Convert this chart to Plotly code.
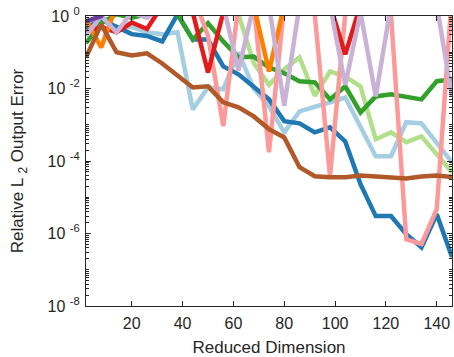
import numpy as np
import plotly.graph_objects as go

# Reduced dimensions (x values)
dims = [2, 8, 14, 20, 26, 32, 38, 44, 50, 56, 62, 68, 74, 80, 86, 92, 98, 104, 110, 116, 122, 128, 134, 140, 146]

# log10 of relative L2 output error, per series (values > 0 run off the top of the axes)
log_err_light_blue = [-0.3, 0.0, -0.35, -0.3, -0.45, -0.5, -0.45, -2.58, -1.97, -2.02, -1.0, -2.0, -2.49,
                      -3.21, -2.63, -2.52, -2.38, -2.25, -3.05, -3.87, -3.87, -2.93, -2.96, -3.49, -4.04]
log_err_blue = [-0.35, -0.1, -0.3, -0.5, -0.55, -0.7, 0.05, -0.65, -0.65, -1.39, -1.61, -1.97, -2.3,
                -2.9, -2.96, -3.21, -3.07, -3.46, -4.64, -5.52, -5.52, -6.02, -6.38, -5.47, -6.65]
log_err_light_green = [0.3, 0.5, 0.5, 0.5, 0.5, 0.5, 0.5, 0.5, 0.5, 0.5, 0.05, -1.3, -1.9,
                       -1.47, -1.14, -2.2, -1.53, -1.67, -1.94, -3.4, -3.21, -3.48, -3.32, -3.82, -4.31]
log_err_green = [-0.75, -0.2, 0.05, -0.05, 0.05, 0.1, 0.05, -0.65, -0.2, -0.7, -1.14, -1.12, -1.42,
                 -1.58, -1.8, -1.83, -2.3, -1.94, -2.66, -2.22, -2.16, -2.22, -2.3, -1.8, -1.75]
log_err_pink = [0.6, 0.6, 0.6, 0.6, 0.6, 0.6, 0.6, 0.6, -0.55, -3.04, 0.3, 0.3, -3.76,
                0.3, 0.3, 0.05, -4.42, 0.05, 0.6, 0.6, 0.05, -6.16, -6.29, -5.33, 0.6]
log_err_red = [-0.45, -0.3, -0.45, -0.18, -0.36, 0.3, 0.3, 0.1, -1.56, 0.1, 0.6, 0.6, 0.6,
               0.6, 0.6, 0.6, 0.3, -1.06, 0.3, 0.6, 0.6, 0.6, 0.6, 0.6, 0.6]
log_err_orange = [-0.1, -0.87, 0.3, 0.6, 0.6, 0.6, 0.6, 0.6, 0.6, 0.6, 0.6, 0.3, -1.53,
                  0.3, 0.6, 0.6, 0.6, 0.6, 0.6, 0.6, 0.6, 0.6, 0.6, 0.6, 0.6]
log_err_light_purple = [-0.55, 0.0, -0.45, 0.1, -0.05, 0.3, 0.6, 0.6, 0.6, 0.3, -1.5, 0.3, 0.3,
                        -2.47, 0.3, 0.6, 0.3, -1.9, 0.1, -2.22, 0.3, 0.6, 0.6, 0.3, -2.22]
log_err_purple = [-0.15, 0.0, 0.6, 0.6, 0.6, 0.6, 0.6, 0.6, 0.6, 0.6, 0.6, 0.6, 0.6,
                  0.6, 0.6, 0.6, 0.6, 0.6, 0.6, 0.6, 0.6, 0.6, 0.6, 0.6, 0.6]
log_err_brown = [-1.14, -0.23, -1.0, -1.09, -1.03, -1.31, -1.64, -1.97, -1.94, -2.38, -2.52, -2.77, -3.12,
                 -3.35, -4.17, -4.42, -4.45, -4.45, -4.4, -4.42, -4.45, -4.48, -4.43, -4.4, -4.44]

y_tick_vals = [1e-8, 1e-6, 1e-4, 1e-2, 1e0]
y_tick_text = ["10 <sup>-8</sup>", "10 <sup>-6</sup>", "10 <sup>-4</sup>", "10 <sup>-2</sup>", "10 <sup>0</sup>"]
x_tick_vals = [20, 40, 60, 80, 100, 120, 140]

series = [
    (log_err_light_blue, "#a6cee3"),
    (log_err_blue, "#1f78b4"),
    (log_err_light_green, "#b2df8a"),
    (log_err_green, "#33a02c"),
    (log_err_pink, "#fb9a99"),
    (log_err_red, "#e31a1c"),
    (log_err_orange, "#ff7f00"),
    (log_err_light_purple, "#cab2d6"),
    (log_err_purple, "#6a3d9a"),
    (log_err_brown, "#b15928"),
]

fig = go.Figure()
for vals, col in series:
    fig.add_trace(go.Scatter(x=dims, y=np.power(10.0, vals), mode="lines",
                             line=dict(color=col, width=4.5), showlegend=False))

axcol = "#262626"
font = "Liberation Sans, Arial, Helvetica, sans-serif"
fig.update_layout(
    width=454, height=357,
    margin=dict(l=86, r=2, t=16, b=51),
    paper_bgcolor="white", plot_bgcolor="white",
    font=dict(family=font, size=16, color=axcol),
)
fig.update_xaxes(
    range=[2, 146], tickvals=x_tick_vals, ticks="inside", ticklen=5, tickcolor=axcol,
    showline=True, linecolor=axcol, linewidth=1, mirror="ticks", showgrid=False, zeroline=False,
    tickfont=dict(size=16, color=axcol), automargin=False, ticklabelstandoff=3,
    ticklabeloverflow="allow",
    title=dict(text="Reduced Dimension", font=dict(size=17, color=axcol), standoff=10),
)
fig.update_yaxes(
    type="log", range=[-8, 0], tickvals=y_tick_vals, ticktext=y_tick_text,
    ticks="inside", ticklen=5, tickcolor=axcol,
    minor=dict(ticks="inside", ticklen=3, tickcolor=axcol, dtick="D1", showgrid=False),
    showline=True, linecolor=axcol, linewidth=1, mirror="ticks", showgrid=False, zeroline=False,
    tickfont=dict(size=16, color=axcol), automargin=False, ticklabelstandoff=2,
    ticklabeloverflow="allow",
    title=dict(text="Relative L <sub>2</sub> Output Error", font=dict(size=17, color=axcol), standoff=19),
)
# remove the default 8px page margin so the 454x357 figure fills the window exactly
fig.write_html("out.html", config={"displayModeBar": False},
               post_script="document.body.style.margin='0';document.body.style.overflow='hidden';")
